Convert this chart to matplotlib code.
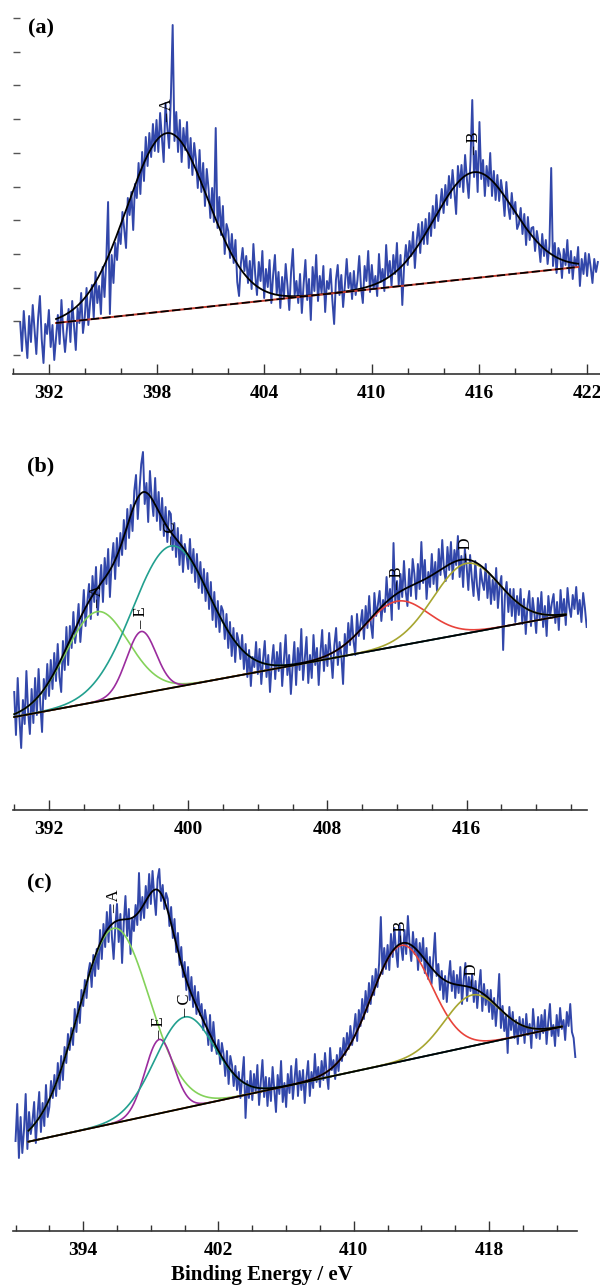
import numpy as np
import matplotlib
matplotlib.use('Agg')
from matplotlib import pyplot as plt

plt.rcParams['font.family'] = ['Liberation Serif', 'DejaVu Serif']

step = 0.1  # eV per channel

# ---------- (a) raw spectrum, counts (a.u.) from 390.4 eV
a_start = 390.4
a_counts = [
    52, 23, 63, 38, 16, 58,
    32, 69, 45, 20, 56, 78, 35, 11, 50, 40,
    64, 27, 49, 14, 37, 59, 30, 74, 42, 22,
    43, 65, 32, 73, 48, 24, 66, 51, 81, 41,
    57, 86, 49, 72, 89, 56, 102, 71, 88, 60,
    107, 77, 114, 172, 60, 119, 91, 131, 114, 143,
    130, 162, 145, 126, 176, 159, 182, 144, 190, 176,
    211, 180, 222, 193, 237, 208, 241, 217, 250, 223,
    254, 222, 261, 236, 212, 271, 247, 226, 277, 349,
    233, 262, 222, 254, 212, 246, 224, 252, 206, 236,
    199, 231, 214, 186, 224, 182, 211, 168, 205, 185,
    156, 186, 152, 246, 146, 177, 139, 168, 120, 150,
    143, 116, 140, 111, 134, 92, 78, 110, 126, 103,
    118, 91, 113, 85, 130, 100, 79, 112, 93, 123,
    76, 105, 87, 114, 71, 99, 119, 80, 102, 66,
    97, 76, 110, 88, 64, 102, 125, 79, 93, 71,
    100, 61, 90, 114, 74, 95, 54, 107, 83, 119,
    73, 98, 81, 108, 62, 93, 85, 105, 74, 50,
    94, 109, 79, 99, 67, 89, 115, 86, 101, 75,
    103, 79, 94, 118, 86, 71, 108, 93, 123, 82,
    109, 85, 98, 78, 120, 92, 105, 83, 129, 98,
    113, 88, 119, 100, 131, 89, 119, 69, 108, 129,
    109, 133, 118, 142, 106, 133, 150, 121, 152, 130,
    155, 130, 161, 138, 168, 146, 179, 153, 167, 185,
    161, 189, 169, 198, 176, 204, 183, 160, 208, 187,
    209, 182, 219, 195, 176, 213, 274, 197, 223, 182,
    252, 195, 214, 178, 208, 188, 221, 178, 203, 174,
    199, 173, 194, 181, 158, 192, 168, 155, 181, 160,
    172, 145, 150, 166, 140, 160, 129, 157, 134, 146,
    147, 123, 143, 131, 112, 140, 118, 134, 110, 128,
    206, 108, 131, 101, 126, 119, 96, 125, 109, 134,
    101, 123, 95, 117, 107, 127, 88, 115, 100, 121,
    98, 120, 107, 91, 115, 102, 112,
]
a_base = [392.4, 51, 421.5, 107]      # baseline ends: eV, counts, eV, counts
a_names = ['A', 'B']
a_centres = [398.6, 415.7]
a_heights = [178, 106]
a_sigmas = [2.25, 2.2]

# ---------- (b)
b_start = 390.0
b_counts = [
    120, 77, 134, 94, 64, 112, 88, 141, 100, 78,
    123, 89, 134, 97, 143, 108, 80, 133, 113, 148,
    116, 152, 123, 159, 131, 168, 135, 120, 171, 142,
    185, 147, 186, 164, 200, 169, 185, 208, 170, 193,
    222, 186, 210, 228, 193, 236, 210, 245, 197, 224,
    247, 210, 254, 228, 263, 215, 250, 269, 233, 274,
    246, 279, 257, 292, 263, 303, 274, 307, 281, 321,
    337, 293, 322, 348, 360, 308, 329, 290, 341, 314,
    296, 334, 291, 320, 282, 314, 276, 305, 270, 301,
    298, 262, 289, 255, 284, 247, 277, 240, 268, 257,
    243, 273, 239, 263, 230, 258, 224, 250, 219, 243,
    211, 239, 203, 230, 192, 220, 185, 211, 180, 206,
    201, 173, 198, 164, 190, 156, 184, 150, 179, 171,
    153, 177, 143, 168, 135, 162, 126, 155, 145, 170,
    138, 163, 128, 152, 171, 135, 157, 120, 149, 167,
    133, 160, 141, 169, 126, 152, 177, 137, 157, 118,
    146, 170, 127, 164, 142, 183, 132, 154, 175, 129,
    157, 134, 177, 147, 164, 127, 159, 182, 141, 167,
    146, 179, 157, 134, 167, 184, 147, 170, 157, 128,
    178, 156, 189, 167, 196, 171, 157, 198, 176, 188,
    202, 173, 206, 184, 216, 188, 174, 219, 196, 207,
    221, 191, 212, 200, 235, 206, 223, 192, 269, 209,
    231, 203, 238, 215, 251, 221, 206, 243, 216, 253,
    238, 213, 248, 223, 270, 229, 252, 213, 240, 225,
    258, 228, 250, 221, 263, 237, 272, 242, 231, 265,
    242, 270, 233, 262, 247, 276, 235, 256, 225, 263,
    246, 222, 257, 234, 216, 251, 226, 212, 243, 230,
    222, 248, 214, 238, 208, 232, 212, 244, 204, 226,
    236, 162, 216, 230, 200, 223, 196, 223, 190, 216,
    197, 223, 188, 213, 178, 207, 221, 186, 214, 198,
    179, 214, 193, 220, 185, 206, 176, 216, 196, 209,
    218, 189, 210, 182, 222, 197, 213, 187, 224, 205,
    195, 217, 203, 225, 198, 212, 190, 219, 204, 185,
]
b_base = [390.0, 95, 421.7, 197]
b_names = ['A', 'E', 'C', 'B', 'D']
b_centres = [394.75, 397.3, 399.0, 412.0, 416.0]
b_heights = [90, 62, 142, 45, 70]
b_sigmas = [1.8, 0.85, 2.2, 1.8, 1.9]

# ---------- (c)
c_start = 390.0
c_counts = [
    90, 127, 73, 114, 78, 101, 137, 82, 119, 97,
    110, 129, 88, 116, 139, 99, 128, 105, 146, 114,
    124, 150, 133, 156, 135, 168, 142, 175, 151, 184,
    168, 197, 181, 203, 186, 222, 199, 229, 208, 241,
    225, 251, 233, 258, 268, 244, 276, 255, 282, 262,
    301, 272, 307, 284, 319, 289, 326, 294, 272, 304,
    327, 289, 317, 268, 308, 335, 295, 322, 277, 313,
    300, 326, 306, 358, 311, 334, 313, 345, 323, 357,
    327, 360, 335, 316, 352, 362, 330, 346, 322, 338,
    332, 305, 324, 293, 312, 279, 298, 266, 284, 254,
    269, 241, 264, 231, 254, 224, 245, 217, 239, 216,
    227, 201, 221, 209, 186, 216, 180, 209, 188, 177,
    191, 167, 188, 177, 155, 180, 147, 175, 166, 145,
    165, 141, 159, 133, 153, 174, 113, 150, 133, 160,
    131, 157, 139, 166, 126, 149, 171, 134, 154, 125,
    153, 130, 164, 141, 119, 156, 137, 170, 129, 148,
    124, 157, 138, 165, 132, 152, 172, 135, 160, 141,
    161, 128, 153, 170, 135, 159, 143, 177, 149, 164,
    144, 170, 151, 178, 157, 142, 183, 161, 171, 152,
    176, 160, 183, 170, 193, 176, 198, 182, 205, 186,
    200, 217, 190, 221, 205, 232, 212, 240, 219, 248,
    227, 255, 236, 262, 244, 268, 314, 257, 283, 262,
    286, 261, 297, 274, 303, 280, 264, 306, 285, 271,
    301, 277, 315, 287, 270, 299, 277, 292, 261, 288,
    270, 293, 258, 283, 252, 274, 247, 271, 298, 255,
    267, 241, 260, 232, 255, 229, 252, 270, 240, 260,
    233, 256, 238, 264, 227, 251, 268, 230, 254, 240,
    257, 229, 250, 223, 244, 261, 220, 247, 226, 241,
    219, 241, 212, 233, 205, 227, 257, 203, 225, 200,
    216, 178, 224, 201, 219, 193, 211, 187, 214, 195,
    212, 188, 217, 196, 207, 183, 222, 202, 193, 214,
    192, 216, 198, 221, 187, 209, 227, 195, 206, 185,
    216, 195, 223, 202, 211, 191, 219, 205, 227, 199,
    193, 174,
]
c_base = [390.76, 89.3, 422.3, 204.3]
c_names = ['A', 'E', 'C', 'B', 'D']
c_centres = [395.8, 398.5, 400.0, 412.8, 417.0]
c_heights = [195, 74, 91, 116, 51]
c_sigmas = [2.1, 0.85, 1.75, 1.78, 1.63]

colours = {'A': '#84d25a', 'E': '#9b2c9e', 'C': '#22a08f', 'B': '#e8433b', 'D': '#a7a630'}
blue = '#3247aa'

W, H = 600, 1286
fig = plt.figure(figsize=(W / 100, H / 100), dpi=100)


def gauss(e, c, h, s):
    return h * np.exp(-(e - c) ** 2 / (2 * s ** 2))


def panel(px, xlim, ylim, start, counts, base, names, centres, heights, sigmas,
          majors, minors, lab_dy, comps=True, yticks=None, red_base=False):
    left, right, top, bottom = px
    ax = fig.add_axes([left / W, 1 - bottom / H, (right - left) / W, (bottom - top) / H])
    e = start + step * np.arange(len(counts))
    ax.plot(e, counts, color=blue, lw=1.4, zorder=1)

    x = np.linspace(base[0], base[2], 800)
    bl = base[1] + (x - base[0]) * (base[3] - base[1]) / (base[2] - base[0])
    env = bl.copy()
    for n, c, h, s in zip(names, centres, heights, sigmas):
        g = gauss(x, c, h, s)
        env = env + g
        if comps:
            ax.plot(x, bl + g, color=colours[n], lw=1.2, zorder=2)
    ax.plot(x, env, color='black', lw=1.3, zorder=3)
    if red_base:
        ax.plot(x, bl, color='#c0392b', lw=1.4, zorder=3)
        ax.plot(x, bl, color='black', lw=1.2, dashes=(5, 2), zorder=4)
    else:
        ax.plot(x, bl, color='black', lw=1.3, zorder=3)

    for n, c, h, dy in zip(names, centres, heights, lab_dy):
        top_y = base[1] + (c - base[0]) * (base[3] - base[1]) / (base[2] - base[0]) + h
        ax.annotate('\u2013 ' + n, xy=(c, top_y), xytext=(0, dy), textcoords='offset points',
                    rotation=90, ha='center', va='bottom', fontsize=12, zorder=5)

    ax.set_xlim(xlim)
    ax.set_ylim(ylim)
    for s in ['top', 'right', 'left']:
        ax.spines[s].set_visible(False)
    ax.spines['bottom'].set_color('#333333')
    ax.spines['bottom'].set_linewidth(1.2)
    ax.set_xticks(majors)
    ax.set_xticks(minors, minor=True)
    ax.tick_params(axis='x', which='both', direction='in', color='#333333', width=1)
    ax.tick_params(axis='x', which='major', length=7, pad=8, labelsize=14)
    ax.tick_params(axis='x', which='minor', length=4.5)
    for t in ax.get_xticklabels():
        t.set_fontweight('bold')
    if yticks is None:
        ax.set_yticks([])
    else:
        ax.set_yticks(yticks)
        ax.tick_params(axis='y', direction='in', length=5, width=1, color='#555555', labelleft=False)
    ax.patch.set_alpha(0)
    return ax


panel((13, 600, 0, 374), (390.35, 422.72), (0, 374), a_start, a_counts, a_base,
      a_names, a_centres, a_heights, a_sigmas,
      np.arange(392, 423, 6), np.arange(390, 423, 2), [8, 12], comps=False,
      yticks=np.arange(19, 360, 33.7), red_base=True)

panel((13, 587, 440, 810), (389.93, 422.92), (2, 372), b_start, b_counts, b_base,
      b_names, b_centres, b_heights, b_sigmas,
      np.arange(392, 423, 8), np.arange(390, 423, 2), [3, 2, 1, 8, 1])

panel((13, 577, 860, 1231), (389.85, 423.2), (0, 371), c_start, c_counts, c_base,
      c_names, c_centres, c_heights, c_sigmas,
      np.arange(394, 423, 8), np.arange(390, 423, 2), [11, 0, 0, 1, 5])

for tag, x, y in [('(a)', 28, 28), ('(b)', 27, 466), ('(c)', 27, 883)]:
    fig.text(x / W, 1 - y / H, tag, fontsize=16, fontweight='bold', ha='left', va='center')

fig.text(262 / W, 1 - 1275 / H, 'Binding Energy / eV', fontsize=15, fontweight='bold',
         ha='center', va='center')

fig.savefig('out.png', dpi=100, facecolor='white')
